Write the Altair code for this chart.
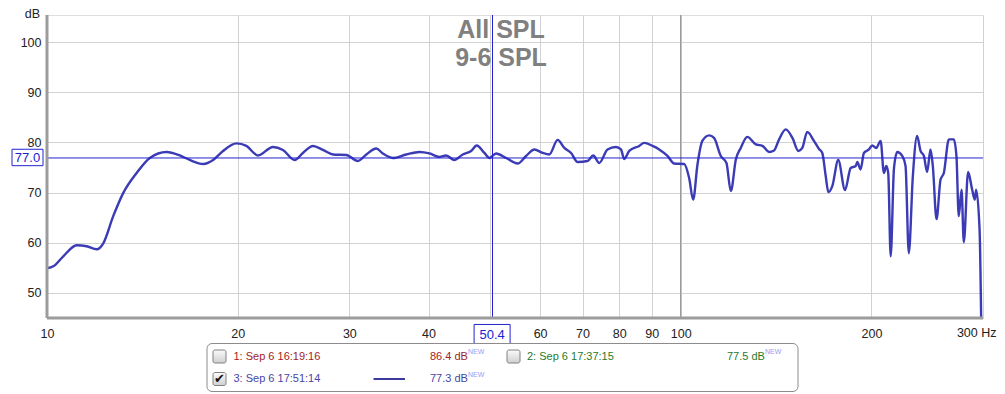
import altair as alt
import pandas as pd

# ---- data (frequency in Hz, level in dB) ----
freq = [10.0, 10.23, 10.61, 11.14, 11.55, 11.98, 12.27, 12.72, 13.19, 13.85,
        14.53, 15.44, 16.20, 16.80, 17.64, 18.29, 18.96, 19.91, 20.64, 21.53,
        22.73, 23.57, 24.6, 25.34, 26.29, 27.26, 28.27, 29.68, 30.95, 31.91,
        33.08, 33.88, 35.14, 36.89, 38.72, 40.14, 41.63, 42.65, 43.95, 45.30,
        46.70, 47.66, 49.01, 49.91, 51.14, 53.03, 55.31, 57.02, 58.77, 60.57,
        62.05, 63.95, 65.53, 67.14, 68.77, 71.30, 72.79, 74.39, 76.66, 79.04,
        80.49, 81.46, 82.95, 86.02, 87.60, 90.28, 92.50, 95.32, 97.68, 101.27,
        103.13, 104.64, 106.3, 108.2, 110.9, 112.9, 115.7, 118.1, 120.0, 122.2,
        124.4, 127.4, 131.4, 134.6, 137.9, 140.4, 143.0, 146.5, 150.1, 153.4,
        155.6, 158.4, 162.3, 165.3, 167.3, 169.4, 171.0, 173.5, 177.3, 181.7,
        185.5, 188.9, 190.0, 192.3, 194.6, 198.2, 200.6, 203.5, 206.8, 209.3,
        211.1, 212.6, 214.5, 217.1, 219.7, 223.7, 226.4, 229.1, 232.5, 236.1,
        239.1, 242.0, 244.9, 247.9, 250.0, 253.4, 257.1, 260.2, 265.0, 269.8,
        272.4, 274.7, 277.5, 279.8, 284.2, 288.4, 291.2, 292.6, 296.3, 298.0]
spl = [54.9, 55.3, 57.3, 59.5, 59.3, 58.7, 59.9, 65.3, 69.9, 73.9,
       76.9, 78.1, 77.4, 76.5, 75.7, 76.5, 78.3, 79.8, 79.3, 77.4,
       79.1, 78.5, 76.5, 77.9, 79.3, 78.5, 77.6, 77.5, 76.3, 77.6,
       78.8, 77.8, 76.9, 77.6, 78.1, 77.8, 77.1, 77.4, 76.5, 77.6,
       78.3, 79.4, 77.9, 76.9, 77.8, 76.9, 75.8, 77.3, 78.6, 77.9,
       77.6, 80.5, 78.9, 77.9, 76.1, 76.3, 77.4, 75.9, 78.6, 79.1,
       78.6, 76.7, 78.3, 79.3, 79.9, 79.3, 78.6, 77.3, 75.8, 75.7,
       72.9, 68.6, 75.6, 80.3, 81.4, 80.9, 77.3, 75.9, 70.3, 76.6,
       78.9, 81.1, 79.6, 79.3, 78.1, 78.4, 80.6, 82.6, 80.9, 78.3,
       78.9, 82.1, 80.3, 78.7, 77.9, 73.3, 70.1, 71.3, 76.5, 70.5,
       74.9, 75.3, 76.1, 74.6, 77.9, 78.6, 79.4, 78.9, 80.3, 73.9,
       75.3, 73.9, 57.3, 74.9, 78.1, 77.3, 75.3, 57.9, 73.3, 81.3,
       78.3, 77.3, 74.1, 78.6, 75.3, 64.7, 72.6, 73.9, 80.6, 80.6,
       77.3, 65.3, 70.6, 60.1, 74.1, 70.6, 68.6, 70.6, 62.6, 45.0]

x_ticks = [10, 20, 30, 40, 50, 60, 70, 80, 90, 100, 200, 300]
y_ticks = [50, 60, 70, 80, 90, 100]
cursor_freq = 50.4
cursor_level = 77.0
titles = ["All SPL", "9-6 SPL"]
legend_names = ["1: Sep 6 16:19:16", "2: Sep 6 17:37:15", "3: Sep 6 17:51:14"]
legend_levels = ["86.4 dB", "77.5 dB", "77.3 dB"]

df = pd.DataFrame({"freq": freq, "spl": spl})
one = pd.DataFrame({"k": [0]})

W, H = 936, 303
FONT = "Liberation Sans"
CURVE = "#3b3bb5"
CURSOR = "#2222d0"

xscale = alt.Scale(type="log", domain=[10, 300], nice=False)
yscale = alt.Scale(domain=[45, 105.4], nice=False, zero=False)

x_enc = alt.X("freq:Q", scale=xscale, title=None,
              axis=alt.Axis(values=x_ticks, grid=True, gridColor="#d2d2d2",
                            domain=False, ticks=False, tickSize=0, labelPadding=9,
                            labelFontSize=12.5, labelColor="#222", labelFont=FONT,
                            labelFlush=False, labelOverlap=False,
                            labelExpr="(datum.value == 50 || datum.value == 300) ? '' : '' + datum.value"))
y_enc = alt.Y("spl:Q", scale=yscale, title=None,
              axis=alt.Axis(values=y_ticks, grid=True, gridColor="#d2d2d2",
                            domain=False, ticks=False, tickSize=0, labelPadding=6,
                            labelFontSize=12.5, labelColor="#222", labelFont=FONT))

curve = alt.Chart(df).mark_line(color=CURVE, strokeWidth=2.4, interpolate="monotone",
                                clip=True).encode(x=x_enc, y=y_enc)

grid100 = alt.Chart(one).mark_rule(color="#9a9a9a", strokeWidth=1.3).encode(
    x=alt.X(datum=100, type="quantitative"))

vcur = alt.Chart(one).mark_rule(color=CURSOR, strokeWidth=1, xOffset=0.4).encode(
    x=alt.X(datum=cursor_freq, type="quantitative"))
hcur = alt.Chart(one).mark_rule(color=CURSOR, strokeWidth=1, yOffset=0.5).encode(
    y=alt.Y(datum=cursor_level, type="quantitative"))

# last x label with unit, kept inside the page
hz_label = alt.Chart(one).mark_text(text="300 Hz", align="right", baseline="top",
                                    fontSize=12.5, font=FONT, color="#222",
                                    dx=13.5).encode(
    x=alt.X(datum=300, type="quantitative"), y=alt.value(H + 9))

# frame
left_border = alt.Chart(one).mark_rule(color="#9c9c9c", strokeWidth=3).encode(
    x=alt.value(0), y=alt.value(0), y2=alt.value(H))
bottom_border = alt.Chart(one).mark_rule(color="#9c9c9c", strokeWidth=3).encode(
    x=alt.value(0), x2=alt.value(W), y=alt.value(H))


def txt(s, x, y, color="#222", size=12.5, align="left", weight="normal",
        font=FONT, baseline="middle"):
    return alt.Chart(one).mark_text(text=s, align=align, baseline=baseline,
                                    fontSize=size, font=font, color=color,
                                    fontWeight=weight).encode(
        x=alt.value(x), y=alt.value(y))


title1 = txt(titles[0], 454, 15, color="#808080", size=25, align="center", weight="bold")
title2 = txt(titles[1], 454, 42.5, color="#808080", size=25, align="center", weight="bold")
db_lab = txt("dB", -7, -7, align="right", baseline="top")

box_shape = "M-1,-0.53H1V0.53H-1Z"
vbox = alt.Chart(one).mark_point(shape=box_shape, size=36 * 36, filled=False,
                                 fill="white", fillOpacity=1, stroke=CURSOR,
                                 strokeWidth=1, opacity=1).encode(
    x=alt.X(datum=cursor_freq, type="quantitative"), y=alt.value(319))
vtext = alt.Chart(one).mark_text(text="50.4", fontSize=13, font=FONT, color=CURSOR,
                                 baseline="middle", align="center").encode(
    x=alt.X(datum=cursor_freq, type="quantitative"), y=alt.value(319.5))
hbox = alt.Chart(one).mark_point(shape=box_shape, size=31 * 31, filled=False,
                                 fill="white", fillOpacity=1, stroke=CURSOR,
                                 strokeWidth=1, opacity=1).encode(
    x=alt.value(-19.5), y=alt.Y(datum=cursor_level, type="quantitative"))
htext = alt.Chart(one).mark_text(text="77.0", fontSize=13, font=FONT, color=CURSOR,
                                 baseline="middle", align="center", dy=0.5).encode(
    x=alt.value(-19.5), y=alt.Y(datum=cursor_level, type="quantitative"))

# legend panel
lg_box = alt.Chart(one).mark_rect(fill="white", stroke="#8c8c8c", strokeWidth=1,
                                  cornerRadius=5).encode(
    x=alt.value(160), x2=alt.value(751), y=alt.value(328.5), y2=alt.value(376.5))

grad = alt.Gradient(gradient="linear", x1=0, y1=0, x2=0, y2=1,
                    stops=[alt.GradientStop(offset=0, color="#fbfbfb"),
                           alt.GradientStop(offset=1, color="#cfcfcf")])


def checkbox(cx, cy):
    return alt.Chart(one).mark_rect(fill=grad, stroke="#808080", strokeWidth=1,
                                    cornerRadius=2).encode(
        x=alt.value(cx - 6.5), x2=alt.value(cx + 6.5),
        y=alt.value(cy - 6.5), y2=alt.value(cy + 6.5))


R1, R2 = 341.5, 364
RED, GREEN, BLUE = "#a02424", "#2a7a2a", "#4646a6"
NEWC = "#9a9af0"
legend = [
    lg_box,
    checkbox(172.5, R1), checkbox(466.5, R1), checkbox(172.5, R2),
    txt("✔", 172.5, R2, color="#111", size=13, align="center", font="DejaVu Sans"),
    txt(legend_names[0], 186.5, R1, color=RED, size=11),
    txt(legend_levels[0], 383, R1, color=RED, size=11),
    txt("NEW", 421, R1 - 4.5, color=NEWC, size=7),
    txt(legend_names[1], 480, R1, color=GREEN, size=11),
    txt(legend_levels[1], 680, R1, color=GREEN, size=11),
    txt("NEW", 718, R1 - 4.5, color=NEWC, size=7),
    txt(legend_names[2], 186.5, R2, color=BLUE, size=11),
    alt.Chart(one).mark_rule(color="#3a3a9a", strokeWidth=2).encode(
        x=alt.value(326.5), x2=alt.value(358), y=alt.value(R2)),
    txt(legend_levels[2], 383, R2, color=BLUE, size=11),
    txt("NEW", 421, R2 - 4.5, color=NEWC, size=7),
]

chart = alt.layer(
    grid100, title1, title2, curve, vcur, hcur, left_border, bottom_border,
    hz_label, db_lab, vbox, vtext, hbox, htext, *legend
).properties(
    width=W, height=H,
    padding={"left": 39, "top": 7, "right": 14, "bottom": 74},
    autosize=alt.AutoSizeParams(type="none"),
).configure_view(stroke="#a9a9a9", strokeWidth=2).configure(background="white")

chart.save("out.html", embed_options={"renderer": "svg", "actions": False})
